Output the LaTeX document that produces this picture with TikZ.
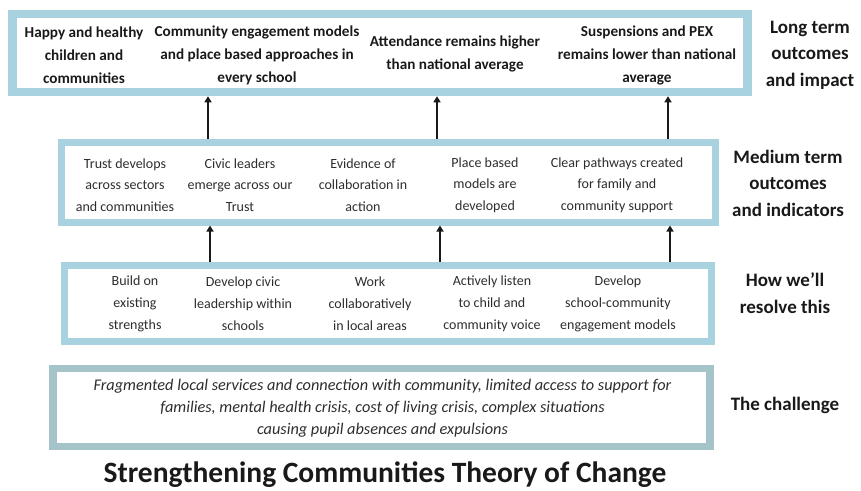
\documentclass[tikz,border=0pt]{standalone}
\usepackage{fontspec}
\setmainfont{Carlito}
\usetikzlibrary{arrows.meta}
\definecolor{boxblue}{RGB}{168,210,224}
\definecolor{boxteal}{RGB}{164,196,202}
\definecolor{inktext}{RGB}{25,25,25}
\definecolor{softtext}{RGB}{45,45,45}
\begin{document}
\begin{tikzpicture}[x=1pt,y=-1pt,
  tierbox/.style={draw=boxblue, rectangle, inner sep=0pt},
  challengebox/.style={draw=boxteal, rectangle, inner sep=0pt, line width=7.5pt},
  longtxt/.style={inner sep=0pt, align=center, text=inktext,
    font=\fontsize{15.2}{23}\selectfont\bfseries},
  medtxt/.style={inner sep=0pt, align=center, text=softtext,
    font=\fontsize{14}{21.5}\selectfont},
  howtxt/.style={inner sep=0pt, align=center, text=softtext,
    font=\fontsize{14}{22}\selectfont},
  sidelabel/.style={inner sep=0pt, align=center, text=inktext,
    font=\fontsize{19}{26.5}\selectfont\bfseries},
  upline/.style={draw=inktext, line width=1.8pt,
    -{Triangle[width=7pt,length=6pt]}}
]
\useasboundingbox (0,0) rectangle (861,490);

% tier frames
\node[tierbox, line width=8.5pt, minimum width=735pt, minimum height=78pt] (long) at (380,53) {};
\node[tierbox, line width=7pt, minimum width=654pt, minimum height=79.5pt] (med) at (388,182.25) {};
\node[tierbox, line width=7pt, minimum width=647pt, minimum height=76pt] (how) at (388,303) {};
\node[challengebox, minimum width=657pt, minimum height=78pt] (chal) at (381.5,407.5) {};

% long term outcomes
\node[longtxt] (l1) at (84,55) {Happy and healthy\\children and\\communities};
\node[longtxt] (l2) at (257,55) {Community engagement models\\and place based approaches in\\every school};
\node[longtxt] (l3) at (455,54) {Attendance remains higher\\than national average};
\node[longtxt] (l4) at (647,55) {Suspensions and PEX\\remains lower than national\\average};

% medium term outcomes
\node[medtxt] (m1) at (125,185) {Trust develops\\across sectors\\and communities};
\node[medtxt] (m2) at (240,185) {Civic leaders\\emerge across our\\Trust};
\node[medtxt] (m3) at (363,185) {Evidence of\\collaboration in\\action};
\node[medtxt] (m4) at (485,185) {Place based\\models are\\developed};
\node[medtxt] (m5) at (617,185) {Clear pathways created\\for family and\\community support};

% how we'll resolve this
\node[howtxt] (h1) at (135,304) {Build on\\existing\\strengths};
\node[howtxt] (h2) at (243,304) {Develop civic\\leadership within\\schools};
\node[howtxt] (h3) at (370,304) {Work\\collaboratively\\in local areas};
\node[howtxt] (h4) at (492,304) {Actively listen\\to child and\\community voice};
\node[howtxt] (h5) at (618,304) {Develop\\school-community\\engagement models};

% the challenge
\node[inner sep=0pt, align=center, text=softtext,
  font=\fontsize{16.3}{22}\selectfont\itshape] (c1) at (382.5,408)
  {Fragmented local services and connection with community, limited access to support for\\
   families, mental health crisis, cost of living crisis, complex situations\\
   causing pupil absences and expulsions};

% side labels
\node[sidelabel] (s1) at (810,55) {Long term\\outcomes\\and impact};
\node[sidelabel] (s2) at (788,183) {Medium term\\outcomes\\and indicators};
\node[sidelabel] (s3) at (785,293) {How we'll\\resolve this};
\node[sidelabel] (s4) at (785,405) {The challenge};

% title
\node[inner sep=0pt, anchor=base, text=inktext, font=\fontsize{29.5}{32}\selectfont\bfseries] (title) at (385,482.5)
  {Strengthening Communities Theory of Change};

% arrow columns
\coordinate (ua) at (208,0);
\coordinate (ub) at (437,0);
\coordinate (uc) at (668,0);
\coordinate (la) at (210,0);
\coordinate (lb) at (440,0);
\coordinate (lc) at (670,0);

\draw[upline] (med.north -| ua) -- (long.south -| ua);
\draw[upline] (med.north -| ub) -- (long.south -| ub);
\draw[upline] (med.north -| uc) -- (long.south -| uc);
\draw[upline] (how.north -| la) -- (med.south -| la);
\draw[upline] (how.north -| lb) -- (med.south -| lb);
\draw[upline] (how.north -| lc) -- (med.south -| lc);
\end{tikzpicture}
\end{document}
